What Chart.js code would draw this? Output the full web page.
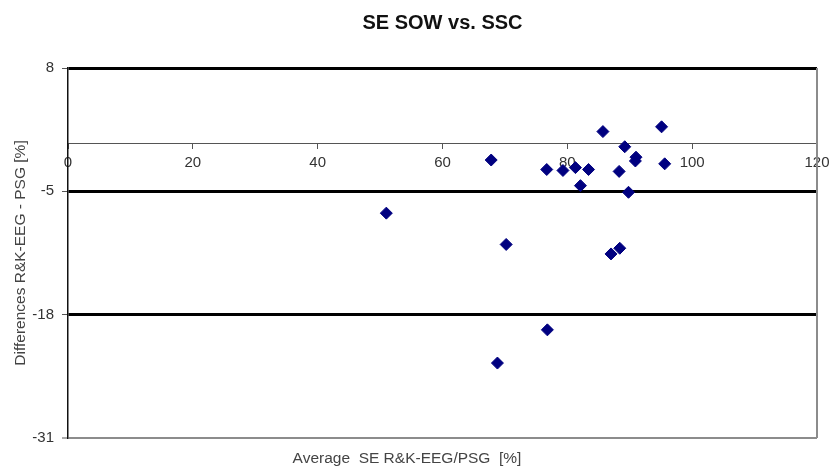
<!DOCTYPE html>
<html lang="en">
<head>
  <meta charset="UTF-8">
  <title>SE SOW vs. SSC</title>
  <script src="https://cdn.jsdelivr.net/npm/chart.js"></script>
  <style>
    html, body {
      margin: 0;
      padding: 0;
      background: #fff;
    }
    .chart-wrap {
      width: 829px;
      height: 466px;
    }
  </style>
</head>
<body>
  <div class="chart-wrap">
    <canvas id="blandAltman" width="829" height="466"></canvas>
  </div>
  <script>
    // Bland-Altman data: average SE vs. difference
    const avgSE = [85.7, 95.1, 89.2, 67.8, 91.0, 90.9, 95.6, 76.7, 79.3, 81.3,
                   83.4, 88.3, 82.1, 89.8, 51.0, 70.2, 88.4, 87.0, 76.8, 68.8];
    const diffSE = [1.3, 1.8, -0.3, -1.7, -1.4, -1.8, -2.1, -2.7, -2.8, -2.5,
                    -2.7, -2.9, -4.4, -5.1, -7.3, -10.6, -11.0, -11.6, -19.6, -23.1];
    const yTicks = [-31, -18, -5, 8];
    const limitLines = [8, -5, -18];
    const xTicks = [0, 20, 40, 60, 80, 100, 120];

    const points = avgSE.map((x, i) => ({ x: x, y: diffSE[i] }));
    const FONT = 'Liberation Sans, Arial, sans-serif';
    const tickFont = { family: FONT, size: 15 };

    // frame, chart title and x axis title
    const framePlugin = {
      id: 'frame',
      beforeDatasetsDraw(chart) {
        const { ctx, chartArea } = chart;
        ctx.save();
        ctx.strokeStyle = '#8c8c8c';
        ctx.lineWidth = 2;
        ctx.beginPath();
        ctx.moveTo(chartArea.right, chartArea.top);
        ctx.lineTo(chartArea.right, chartArea.bottom);
        ctx.stroke();
        ctx.restore();
      },
      afterDraw(chart) {
        const { ctx, chartArea } = chart;
        const w = chartArea.right - chartArea.left;
        ctx.save();
        ctx.textAlign = 'center';
        ctx.textBaseline = 'middle';
        ctx.font = 'bold 20px ' + FONT;
        ctx.fillStyle = '#111';
        ctx.fillText('SE SOW vs. SSC', chartArea.left + w / 2, 23);
        ctx.font = '15.5px ' + FONT;
        ctx.fillStyle = '#444';
        ctx.fillText('Average  SE R&K-EEG/PSG  [%]', chartArea.left + w * 0.4526, chartArea.bottom + 21);
        ctx.restore();
      }
    };

    new Chart(document.getElementById('blandAltman').getContext('2d'), {
      type: 'scatter',
      data: {
        datasets: [{
          label: 'SE',
          data: points,
          pointStyle: 'rectRot',
          pointRadius: 6,
          pointHoverRadius: 6,
          backgroundColor: '#000080',
          borderColor: '#000080',
          borderWidth: 1
        }]
      },
      options: {
        responsive: false,
        animation: false,
        layout: { padding: { left: 0, right: 0, top: 68, bottom: 28 } },
        plugins: {
          legend: { display: false },
          tooltip: { enabled: false },
          title: { display: false }
        },
        scales: {
          x: {
            type: 'linear',
            position: { y: 0 },
            min: 0,
            max: 120,
            afterBuildTicks: (scale) => { scale.ticks = xTicks.map(v => ({ value: v })); },
            afterFit: (scale) => { scale.paddingRight = 12; },
            grid: {
              drawOnChartArea: false,
              drawTicks: true,
              tickLength: 5,
              tickColor: '#555'
            },
            border: { display: true, color: '#555', width: 1 },
            ticks: { color: '#333', font: tickFont, padding: 5, maxRotation: 0 }
          },
          y: {
            type: 'linear',
            min: -31,
            max: 8,
            afterBuildTicks: (scale) => { scale.ticks = yTicks.map(v => ({ value: v })); },
            afterFit: (scale) => { scale.width = 68; },
            grid: {
              drawOnChartArea: true,
              drawTicks: true,
              tickLength: 6,
              tickColor: '#555',
              tickWidth: 1,
              color: (c) => limitLines.includes(c.tick.value) ? '#000' : '#8c8c8c',
              lineWidth: (c) => limitLines.includes(c.tick.value) ? 3 : 2
            },
            border: { display: true, color: '#111', width: 1.5 },
            ticks: { color: '#333', font: tickFont, padding: 8 },
            title: {
              display: true,
              text: 'Differences R&K-EEG - PSG [%]',
              color: '#444',
              font: { family: FONT, size: 15.5 },
              padding: { top: 11, bottom: 0 }
            }
          }
        }
      },
      plugins: [framePlugin]
    });
  </script>
</body>
</html>
